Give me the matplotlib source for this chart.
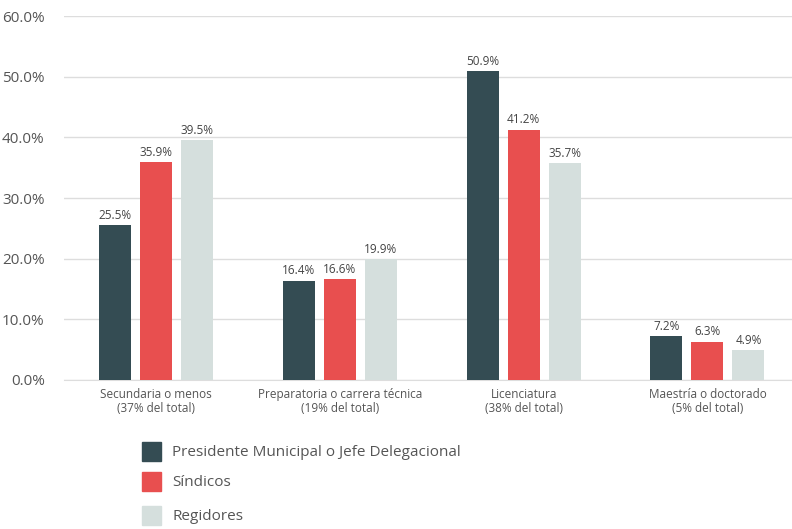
import matplotlib.pyplot as plt
import matplotlib.patches as mpatches
import numpy as np

# Datos
categorias = ["Secundaria o menos\n(37% del total)",
              "Preparatoria o carrera técnica\n(19% del total)",
              "Licenciatura\n(38% del total)",
              "Maestría o doctorado\n(5% del total)"]
series = ["Presidente Municipal o Jefe Delegacional", "Síndicos", "Regidores"]
presidentes = [25.5, 16.4, 50.9, 7.2]
sindicos = [35.9, 16.6, 41.2, 6.3]
regidores = [39.5, 19.9, 35.7, 4.9]
colores = ["#344c53", "#e84f4f", "#d5dfdd"]
yticks = [0, 10, 20, 30, 40, 50, 60]

plt.rcParams['font.family'] = ['Open Sans', 'DejaVu Sans']

fig = plt.figure(figsize=(7.92, 5.29), dpi=100)
ax = fig.add_axes([0.081, 0.2817, 0.919, 0.688])

x = np.arange(len(categorias))
ancho = 0.174
paso = 0.223
for i, (vals, col) in enumerate(zip([presidentes, sindicos, regidores], colores)):
    barras = ax.bar(x + (i - 1) * paso, vals, ancho, color=col, zorder=3)
    for b, v in zip(barras, vals):
        ax.text(b.get_x() + b.get_width() / 2, v + 0.6, f"{v:.1f}%",
                ha='center', va='bottom', fontsize=8.5, color='#444444')

ax.set_xlim(-0.5, 3.46)
ax.set_ylim(0, 60)
ax.set_yticks(yticks)
ax.set_yticklabels([f"{t:.1f}%" for t in yticks], fontsize=11, color='#555555')
ax.set_xticks(x)
ax.set_xticklabels(categorias, fontsize=8.5, color='#555555', linespacing=1.1)
ax.yaxis.grid(True, color='#dddddd', linewidth=1, zorder=0)
ax.tick_params(length=0, pad=6)
ax.tick_params(axis='y', pad=14)
for s in ['top', 'right', 'left']:
    ax.spines[s].set_visible(False)
ax.spines['bottom'].set_color('#dddddd')

# Leyenda manual
ys = [452, 482, 516]
for nombre, col, yp in zip(series, colores, ys):
    fig.patches.append(mpatches.Rectangle((142 / 792, 1 - (yp + 9) / 529), 19 / 792, 19 / 529,
                                          transform=fig.transFigure, color=col))
    fig.text(172 / 792, 1 - yp / 529, nombre, fontsize=11, color='#555555', va='center')

fig.savefig("out.png", dpi=100)
